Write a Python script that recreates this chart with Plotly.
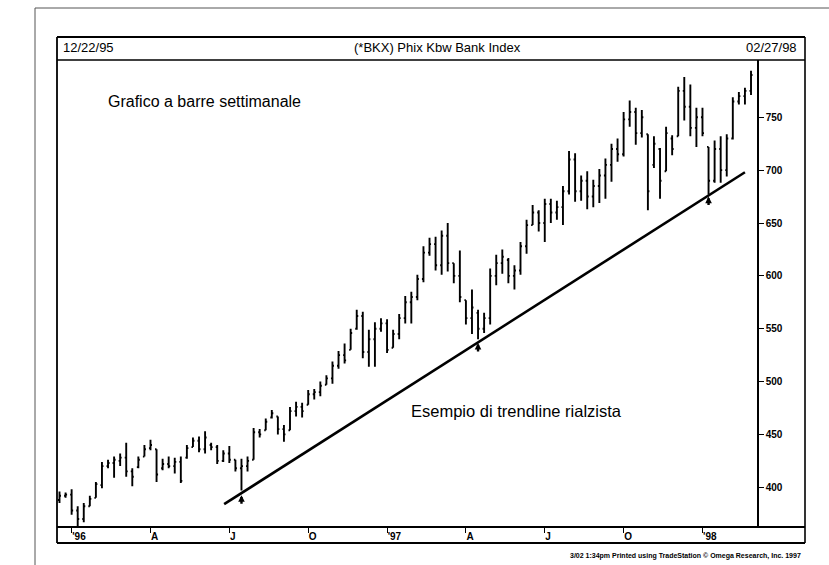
import plotly.graph_objects as go
import pandas as pd

# ---------------- data ----------------
start_date = "1995-12-22"
n_weeks = 115

highs = [396, 395, 398, 382, 385, 392, 405, 424, 426, 429,
         432, 442, 418, 429, 440, 445, 436, 427, 429, 428,
         429, 440, 447, 448, 453, 442, 440, 435, 439, 426,
         427, 429, 456, 455, 465, 473, 467, 459, 476, 481,
         480, 492, 493, 500, 506, 519, 529, 536, 550, 568,
         566, 549, 556, 560, 559, 549, 564, 581, 585, 601,
         628, 636, 637, 643, 650, 612, 624, 577, 587, 568,
         565, 607, 620, 625, 617, 610, 632, 653, 667, 662,
         673, 673, 671, 685, 718, 716, 695, 699, 691, 701,
         711, 725, 730, 755, 766, 759, 757, 734, 732, 721,
         741, 733, 779, 788, 781, 759, 759, 722, 728, 732,
         734, 769, 774, 778, 794]
lows = [385, 390, 374, 363, 367, 382, 390, 399, 418, 409,
        420, 410, 401, 418, 429, 435, 405, 416, 418, 413,
        404, 427, 438, 433, 432, 435, 422, 424, 423, 415,
        397, 415, 426, 447, 454, 465, 450, 443, 454, 467,
        466, 478, 483, 486, 497, 498, 512, 517, 530, 549,
        522, 514, 514, 547, 527, 532, 540, 555, 555, 577,
        594, 619, 605, 601, 604, 593, 575, 554, 545, 540,
        546, 554, 591, 602, 593, 587, 601, 621, 648, 642,
        632, 650, 653, 648, 677, 670, 671, 663, 665, 669,
        673, 689, 708, 713, 741, 724, 731, 662, 702, 673,
        699, 714, 732, 747, 732, 722, 732, 677, 688, 688,
        694, 729, 762, 762, 771]
opens = [388, 392, 393, 378, 370, 382, 390, 402, 420, 423,
         425, 428, 415, 419, 429, 437, 436, 418, 422, 420,
         424, 428, 438, 444, 436, 440, 438, 425, 432, 426,
         418, 420, 426, 452, 454, 466, 467, 455, 454, 472,
         476, 478, 488, 490, 497, 503, 515, 525, 530, 550,
         562, 528, 540, 550, 555, 532, 545, 560, 575, 580,
         597, 622, 630, 610, 638, 612, 600, 577, 560, 565,
         550, 560, 600, 612, 615, 600, 605, 628, 648, 660,
         650, 668, 660, 665, 680, 710, 680, 690, 675, 685,
         695, 705, 720, 715, 748, 755, 735, 734, 705, 720,
         699, 730, 732, 775, 760, 740, 750, 722, 690, 720,
         700, 730, 765, 770, 775]
closes = [392, 393, 378, 370, 382, 389, 403, 420, 423, 426,
          428, 415, 410, 426, 436, 440, 412, 422, 420, 424,
          406, 437, 444, 436, 447, 438, 425, 432, 426, 418,
          420, 425, 452, 450, 462, 470, 455, 450, 472, 476,
          472, 488, 490, 496, 503, 515, 525, 520, 546, 562,
          528, 540, 550, 555, 530, 545, 560, 575, 580, 597,
          622, 630, 610, 638, 612, 600, 580, 560, 570, 550,
          560, 600, 612, 618, 600, 605, 628, 648, 660, 650,
          668, 660, 665, 680, 710, 680, 690, 675, 685, 695,
          705, 720, 715, 748, 755, 735, 750, 680, 725, 690,
          735, 720, 775, 760, 740, 750, 735, 690, 720, 700,
          730, 765, 770, 775, 790]

trend_dates = ["1996-06-29", "1998-02-20"]
trend_values = [384, 698]

touch_dates = ["1996-07-19", "1997-04-18", "1998-01-09"]
touch_values = [392.5, 536.5, 675]

tick_dates = ["1996-01-05", "1996-04-05", "1996-07-05", "1996-10-04",
              "1997-01-03", "1997-04-04", "1997-07-04", "1997-10-03",
              "1998-01-02"]
tick_text = ["'96", "A", "J", "O", "'97", "A", "J", "O", "'98"]
y_ticks = [400, 450, 500, 550, 600, 650, 700, 750]

header_left = "12/22/95"
header_title = "(*BKX) Phix Kbw Bank Index"
header_right = "02/27/98"
label_top = "Grafico a barre settimanale"
label_trend = "Esempio di trendline rialzista"
footer = "3/02 1:34pm Printed using TradeStation \u00a9 Omega Research, Inc. 1997"

# ---------------- figure ----------------
dates = pd.date_range(start_date, periods=n_weeks, freq="W-FRI")

W, H = 829, 565
ML, MR, MT, MB = 58, 72, 60, 38
PW, PH = W - ML - MR, H - MT - MB


def px(x):
    return (x - ML) / PW


def py(y):
    return (H - MB - y) / PH


FONT = "Liberation Sans, Arial, sans-serif"

fig = go.Figure()
fig.add_trace(go.Ohlc(
    x=dates, open=opens, high=highs, low=lows, close=closes,
    increasing=dict(line=dict(color="black", width=1.9)),
    decreasing=dict(line=dict(color="black", width=1.9)),
    tickwidth=0.25, showlegend=False, hoverinfo="skip"))

fig.add_trace(go.Scatter(
    x=trend_dates, y=trend_values, mode="lines",
    line=dict(color="black", width=2.6), showlegend=False, hoverinfo="skip"))

annotations = []
for d, v in zip(touch_dates, touch_values):
    annotations.append(dict(x=d, y=v, xref="x", yref="y", text="",
                            showarrow=True, arrowhead=2, arrowsize=0.55,
                            arrowwidth=2.4, arrowcolor="black", ax=0, ay=10))

annotations += [
    dict(x=px(61), y=py(47), xref="paper", yref="paper", text=header_left,
         showarrow=False, xanchor="left", yanchor="middle",
         font=dict(family=FONT, size=13, color="black")),
    dict(x=px(437), y=py(47), xref="paper", yref="paper", text=header_title,
         showarrow=False, xanchor="center", yanchor="middle",
         font=dict(family=FONT, size=13, color="black")),
    dict(x=px(799), y=py(47), xref="paper", yref="paper", text=header_right,
         showarrow=False, xanchor="right", yanchor="middle",
         font=dict(family=FONT, size=13, color="black")),
    dict(x=px(106), y=py(101), xref="paper", yref="paper", text=label_top,
         showarrow=False, xanchor="left", yanchor="middle",
         font=dict(family=FONT, size=16, color="black")),
    dict(x=px(409), y=py(411), xref="paper", yref="paper", text=label_trend,
         showarrow=False, xanchor="left", yanchor="middle",
         font=dict(family=FONT, size=16.5, color="black")),
    dict(x=px(803), y=py(556), xref="paper", yref="paper", text="<b>" + footer + "</b>",
         showarrow=False, xanchor="right", yanchor="middle",
         font=dict(family=FONT, size=7, color="black")),
]


def hline(y, x0, x1, w=1.6, c="black"):
    return dict(type="line", xref="paper", yref="paper",
                x0=px(x0), x1=px(x1), y0=py(y), y1=py(y),
                line=dict(color=c, width=w))


def vline(x, y0, y1, w=1.6, c="black"):
    return dict(type="line", xref="paper", yref="paper",
                x0=px(x), x1=px(x), y0=py(y0), y1=py(y1),
                line=dict(color=c, width=w))


shapes = [
    hline(37, 57, 805, 2.2),
    hline(60, 57, 805, 1.6),
    vline(57, 37, 543, 1.8),
    vline(805, 37, 543, 1.6),
    hline(527, 57, 805, 1.8),
    hline(543, 57, 805, 1.8),
    hline(8, 35, 829, 1, "#555555"),
    vline(35, 8, 565, 1, "#555555"),
]

x0 = dates[0] - pd.Timedelta(hours=41.5)
x1 = dates[-1] + pd.Timedelta(hours=166)

fig.update_layout(
    width=W, height=H,
    margin=dict(l=ML, r=MR, t=MT, b=MB, pad=0),
    paper_bgcolor="white", plot_bgcolor="white",
    showlegend=False,
    annotations=annotations, shapes=shapes,
    font=dict(family=FONT, color="black"),
    xaxis=dict(type="date", range=[x0, x1], rangeslider=dict(visible=False),
               tickvals=tick_dates, ticktext=tick_text,
               ticks="outside", ticklen=5, tickwidth=1.2, tickcolor="black",
               ticklabelposition="outside right",
               tickfont=dict(family=FONT, size=10, color="black", weight="bold"),
               showgrid=False, zeroline=False, showline=False),
    yaxis=dict(side="right", range=[362.4, 804.2], tickvals=y_ticks,
               ticks="outside", ticklen=5, tickwidth=1.2, tickcolor="black",
               tickfont=dict(family=FONT, size=10, color="black", weight="bold"),
               showgrid=False, zeroline=False,
               showline=True, linecolor="black", linewidth=1.5),
)

fig.write_html("out.html", config={"displayModeBar": False},
               post_script="document.body.style.margin='0px';document.body.style.overflow='hidden';")
